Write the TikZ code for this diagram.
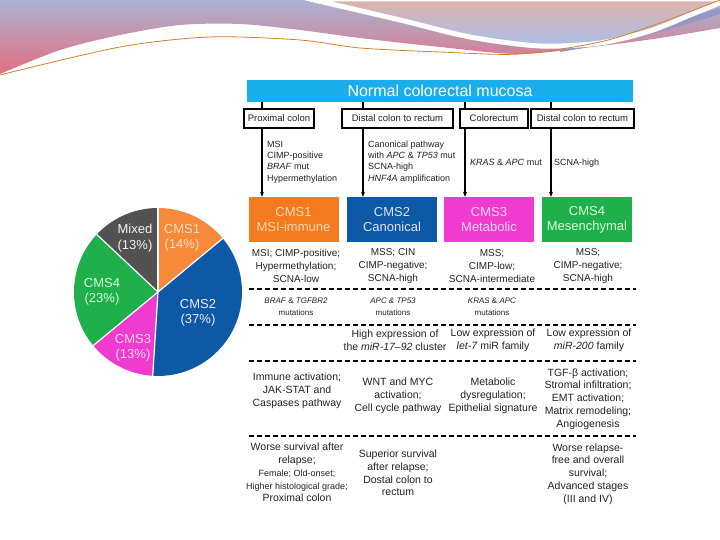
\documentclass[tikz,border=0pt]{standalone}
\usepackage{fontspec}
\setmainfont{Liberation Sans}
\usepackage{tikz}
\usetikzlibrary{arrows.meta,positioning,calc}

\definecolor{mucosa}{HTML}{19ADEC}
\definecolor{cmsA}{HTML}{F47A20}
\definecolor{cmsB}{HTML}{0D59A6}
\definecolor{cmsC}{HTML}{EF3BD0}
\definecolor{cmsD}{HTML}{1FB04C}
\definecolor{pieA}{HTML}{F6893A}
\definecolor{mixgray}{HTML}{525252}
\definecolor{txt}{HTML}{222222}
\definecolor{lavender}{HTML}{ABB2D3}
\definecolor{rose}{HTML}{E07080}
\definecolor{blush}{HTML}{DDB1AB}
\definecolor{skyish}{HTML}{ABBFEA}
\definecolor{periwink}{HTML}{9896C4}

\begin{document}
\begin{tikzpicture}[x=1pt, y=1pt,
  every node/.style={font=\fontsize{10.5}{12.8}\selectfont, text=txt, inner sep=0pt},
  locbox/.style={draw=black, line width=1.1pt, minimum height=19pt, font=\fontsize{9.5}{11}\selectfont},
  cmsbox/.style={minimum width=90pt, minimum height=45pt, align=center, font=\fontsize{13}{15}\selectfont},
  pathtxt/.style={align=left, anchor=west, font=\fontsize{9}{11.3}\selectfont},
  rowtxt/.style={align=center},
  rowsmall/.style={align=center, font=\fontsize{10}{12.8}\selectfont},
  gene/.style={align=center, font=\fontsize{8}{12}\selectfont},
  pielab/.style={align=center, font=\fontsize{13}{15.5}\selectfont},
  stem/.style={line width=1.1pt},
  sep/.style={line width=1.5pt, dash pattern=on 5pt off 3pt}]
  \useasboundingbox (0,0) rectangle (720,540);

  % slide decoration
  \shade[top color=lavender, bottom color=rose]
    plot[smooth] coordinates {(0,466) (60,490) (120,505) (180,515) (240,516) (300,510) (360,502) (440,493) (520,486) (600,494) (660,502) (720,512)}
    -- (720,540) -- (0,540) -- cycle;
  \draw[color=periwink, line width=6pt]
    plot[smooth] coordinates {(560,491) (640,506) (720,529)};
  \shade[top color=blush, bottom color=skyish, draw=white, line width=5pt]
    plot[smooth] coordinates {(310,541) (400,520) (470,503) (540,494) (600,497) (650,509) (690,525) (722,538)}
    -- (722,541) -- cycle;
  \draw[color=brown!70!orange, line width=0.8pt]
    plot[smooth] coordinates {(0,465) (120,493) (210,503) (300,500) (360,492) (440,488) (520,486) (600,498) (660,517) (720,540)};

  % pie
  \coordinate (pc) at (158,248);
  \foreach \a/\b/\c in {90/39.6/pieA, 39.6/-93.6/cmsB, -93.6/-140.4/cmsC, -140.4/-223.2/cmsD, -223.2/-270/mixgray}
    \fill[\c] (pc) -- ++(\a:84) arc[start angle=\a, end angle=\b, radius=84] -- cycle;
  \foreach \a in {90,39.6,-93.6,-140.4,-223.2}
    \draw[white, line width=1.2pt] (pc) -- ++(\a:84);
  \node[pielab, text=white!90!gray] (pmix) at (135,302) {Mixed\\(13\%)};
  \node[pielab, text=orange!25!white] (pcms1) at (182,302) {CMS1\\(14\%)};
  \node[pielab, text=green!15!white] (pcms4) at (102,248) {CMS4\\(23\%)};
  \node[pielab, text=blue!8!white] (pcms2) at (198,227) {CMS2\\(37\%)};
  \node[pielab, text=magenta!15!white] (pcms3) at (133,192) {CMS3\\(13\%)};

  % tree
  \node[fill=mucosa, minimum width=386pt, minimum height=22pt, text=white, font=\fontsize{16}{18}\selectfont] (mucosa) at (440,449) {Normal colorectal mucosa};
  \node[locbox, minimum width=70pt] (loc1) at (279,421.5) {Proximal colon};
  \node[locbox, minimum width=111pt] (loc2) at (397.5,421.5) {Distal colon to rectum};
  \node[locbox, minimum width=68pt] (loc3) at (494,421.5) {Colorectum};
  \node[locbox, minimum width=103pt] (loc4) at (582.5,421.5) {Distal colon to rectum};

  \node[cmsbox, fill=cmsA, text=orange!30!white] (cms1) at (293.5,320.5) {CMS1\\MSI-immune};
  \node[cmsbox, fill=cmsB, text=blue!12!white] (cms2) at (392,320.5) {CMS2\\Canonical};
  \node[cmsbox, fill=cmsC, text=magenta!15!white] (cms3) at (489,320.5) {CMS3\\Metabolic};
  \node[cmsbox, fill=cmsD, text=green!15!white] (cms4) at (587,320.5) {CMS4\\Mesenchymal};

  \coordinate (c1) at (262,0);
  \coordinate (c2) at (363,0);
  \coordinate (c3) at (465,0);
  \coordinate (c4) at (551,0);
  \foreach \i in {1,2,3,4} {
    \draw[stem] (mucosa.south -| c\i) -- (loc\i.north -| c\i);
    \draw[stem, -{Stealth[length=5pt, width=4pt]}] (loc\i.south -| c\i) -- (cms\i.north -| c\i);
  }

  \node[pathtxt] (n1) at (267,378) {MSI\\CIMP-positive\\\textit{BRAF} mut\\Hypermethylation};
  \node[pathtxt] (n2) at (368,378) {Canonical pathway\\with \textit{APC} \& \textit{TP53} mut\\SCNA-high\\\textit{HNF4A} amplification};
  \node[pathtxt] (n3) at (470,378) {\textit{KRAS} \& \textit{APC} mut};
  \node[pathtxt] (n4) at (554,377) {SCNA-high};

  % rows
  \node[rowsmall] (r1a) at (296,274) {MSI; CIMP-positive;\\Hypermethylation;\\SCNA-low};
  \node[rowsmall] (r1b) at (393,274) {MSS; CIN\\CIMP-negative;\\SCNA-high};
  \node[rowsmall] (r1c) at (492,274) {MSS;\\CIMP-low;\\SCNA-intermediate};
  \node[rowsmall] (r1d) at (588,274) {MSS;\\CIMP-negative;\\SCNA-high};

  \node[gene] (r2a) at (296,233) {\textit{BRAF} \& \textit{TGFBR2}\\mutations};
  \node[gene] (r2b) at (393,233) {\textit{APC \& TP53}\\mutations};
  \node[gene] (r2c) at (492,233) {\textit{KRAS} \& \textit{APC}\\mutations};

  \node[rowtxt] (r3b) at (395,200) {High expression of\\the \textit{miR-17--92} cluster};
  \node[rowtxt] (r3c) at (493,200) {Low expression of\\\textit{let-7} miR family};
  \node[rowtxt] (r3d) at (589,200) {Low expression of\\\textit{miR-200} family};

  \node[rowtxt] (r4a) at (297,149) {Immune activation;\\JAK-STAT and\\Caspases pathway};
  \node[rowtxt] (r4b) at (398,144) {WNT and MYC\\activation;\\Cell cycle pathway};
  \node[rowtxt] (r4c) at (493,144) {Metabolic\\dysregulation;\\Epithelial signature};
  \node[rowtxt] (r4d) at (588,141) {TGF-β activation;\\Stromal infiltration;\\EMT activation;\\Matrix remodeling;\\Angiogenesis};

  \node[rowtxt] (r5a) at (297,67.5) {Worse survival after\\relapse;\\{\fontsize{9}{11}\selectfont Female; Old-onset;}\\{\fontsize{9}{11}\selectfont Higher histological grade;}\\Proximal colon};
  \node[rowtxt] (r5b) at (398,67) {Superior survival\\after relapse;\\Dostal colon to\\rectum};
  \node[rowtxt] (r5d) at (588,66) {Worse relapse-\\free and overall\\survival;\\Advanced stages\\(III and IV)};

  \foreach \y in {251,215,179,104}
    \draw[sep] (249,\y) -- (636,\y);
\end{tikzpicture}
\end{document}
